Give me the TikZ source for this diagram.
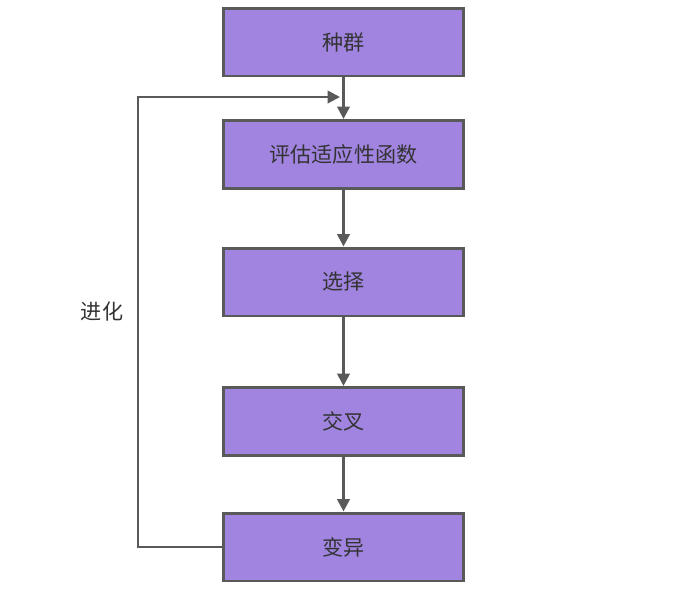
\documentclass[tikz,border=0pt]{standalone}
\usepackage{fontspec}
\setmainfont{Noto Sans CJK SC}
\usepackage{tikz}
\usetikzlibrary{arrows.meta}
\usepackage{xcolor}
\definecolor{boxfill}{HTML}{A084E0}
\definecolor{boxline}{HTML}{595959}
\definecolor{txt}{HTML}{333333}

\begin{document}
\begin{tikzpicture}[x=0.02cm,y=-0.02cm,
		box/.style={draw=boxline,fill=boxfill,line width=1.7pt,minimum width=4.8cm,minimum height=1.36cm,text=txt,font=\fontsize{12}{14}\selectfont},
		flow/.style={draw=boxline,line width=1.5pt,-{Triangle[length=7pt,width=7pt]}}]
					\useasboundingbox (0,0) rectangle (691,599);
					
					\node[box] (pop) at (343.5,42) {种群};
					\node[box] (fit) at (343.5,154.5) {评估适应性函数};
					\node[box] (sel) at (343.5,282) {选择};
					\node[box] (cross) at (343.5,421.5) {交叉};
					\node[box] (mut) at (343.5,547) {变异};
					
					\draw[flow] (pop) -- (fit);
					\draw[flow] (fit) -- (sel);
					\draw[flow] (sel) -- (cross);
					\draw[flow] (cross) -- (mut);
					
					%loop back
					\coordinate (back) at (138,97);
					\coordinate (loopend) at (340,97);
					\draw[flow] (mut.west) -| (back) -- (loopend);
					\node[text=txt,font=\fontsize{12}{14}\selectfont] (evo) at (102,311) {进化};
				\end{tikzpicture}
\end{document}
